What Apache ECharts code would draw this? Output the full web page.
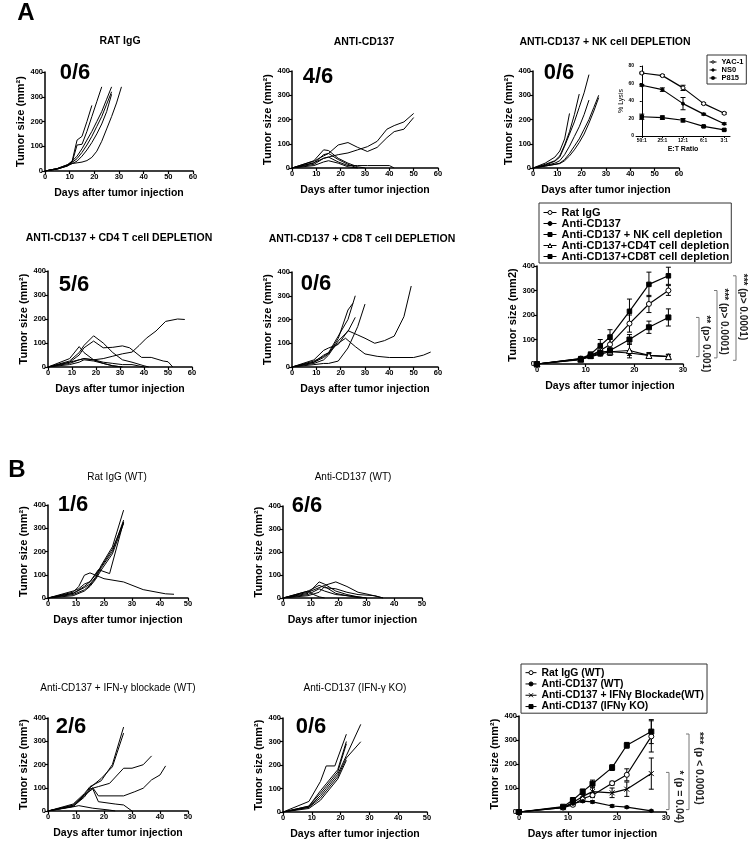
<!DOCTYPE html>
<html><head><meta charset="utf-8">
<script src="https://cdn.jsdelivr.net/npm/echarts@6/dist/echarts.min.js"></script>
<style>html,body{margin:0;padding:0;background:#fff}#c{width:750px;height:843px}</style>
</head><body><div id="c"></div>
<script>
const FONT = '"Liberation Sans", Arial, sans-serif';

// ---------------- DATA ----------------
// individual tumor growth curves: [day, tumor size mm2]
const mice_A_ratIgG = [
  [[0,0],[5,8],[9,22],[11,40],[13,125],[15,140],[17,200],[19,265]],
  [[0,0],[5,8],[9,20],[11,35],[13,105],[15,108],[17,160],[19,220],[21,280],[23,340]],
  [[0,0],[5,10],[9,25],[11,40],[13,60],[15,90],[17,125],[19,160],[21,200],[23,240],[25,290],[27,340]],
  [[0,0],[5,10],[9,22],[11,35],[13,50],[15,75],[17,105],[19,140],[21,180],[23,220],[25,270],[27,320]],
  [[0,0],[5,8],[9,20],[11,30],[13,40],[15,60],[17,85],[19,115],[21,150],[23,190],[25,240],[27,310]],
  [[0,0],[5,10],[9,25],[11,30],[13,33],[15,36],[17,42],[19,55],[21,80],[23,120],[25,170],[27,220],[29,275],[31,340]]
];
const mice_A_antiCD137 = [
  [[0,0],[9,28],[13,50],[15,60],[19,95],[23,105],[27,85],[31,68],[35,85],[39,125],[42,150],[46,160],[50,208]],
  [[0,0],[9,22],[13,40],[15,45],[19,55],[23,62],[27,75],[31,88],[35,110],[39,160],[42,175],[46,190],[50,225]],
  [[0,0],[9,30],[13,75],[15,72],[19,40],[23,20],[27,5],[30,0]],
  [[0,0],[9,20],[13,55],[15,60],[19,35],[23,15],[27,0]],
  [[0,0],[9,15],[13,40],[15,45],[19,25],[23,10],[27,10],[31,10],[40,10],[42,0]],
  [[0,0],[9,10],[13,25],[15,30],[19,20],[23,5],[27,0]]
];
const mice_A_nkDepletion = [
  [[0,0],[5,20],[9,45],[11,70],[13,120],[15,225]],
  [[0,0],[5,15],[9,30],[11,50],[13,95],[15,150],[17,220],[19,305]],
  [[0,0],[5,12],[9,28],[11,45],[13,90],[15,140],[17,190],[19,250],[21,310],[23,385]],
  [[0,0],[5,10],[9,20],[11,30],[13,55],[15,90],[17,130],[19,170],[21,220],[23,280]],
  [[0,0],[5,8],[9,15],[11,20],[13,35],[15,60],[17,90],[19,120],[21,160],[23,200],[25,250],[27,300]],
  [[0,0],[5,8],[9,15],[11,18],[13,30],[15,50],[17,75],[19,105],[21,140],[23,185],[25,235],[27,290]]
];
const mice_A_cd4Depletion = [
  [[0,0],[9,20],[13,30],[15,35],[19,30],[23,35],[27,45],[31,55],[35,62],[38,90],[41,120],[45,150],[49,190],[54,200],[57,198]],
  [[0,0],[9,25],[13,60],[15,90],[19,130],[23,100],[27,60],[31,30],[35,20],[40,5],[42,0]],
  [[0,0],[9,20],[13,50],[15,80],[19,108],[23,80],[27,82],[31,88],[34,80],[39,40],[43,40],[48,25],[50,22],[52,0]],
  [[0,0],[9,35],[13,85],[15,60],[19,30],[23,15],[27,5],[31,0]],
  [[0,0],[9,15],[13,30],[15,35],[19,30],[23,20],[27,15],[31,10],[35,10],[40,0]],
  [[0,0],[9,10],[13,20],[15,30],[19,25],[23,15],[27,5],[31,0]]
];
const mice_A_cd8Depletion = [
  [[0,0],[9,30],[13,70],[15,80],[19,95],[23,153],[27,135],[30,121],[34,100],[38,111],[42,130],[46,212],[49,341]],
  [[0,0],[9,20],[13,50],[15,60],[19,100],[22,121],[26,86],[30,55],[35,45],[40,40],[50,40],[54,50],[57,63]],
  [[0,0],[9,20],[13,40],[15,55],[19,120],[23,240],[25,268]],
  [[0,0],[9,25],[13,45],[15,60],[19,130],[23,200],[26,300]],
  [[0,0],[9,15],[13,30],[15,50],[19,110],[23,150],[26,209]],
  [[0,0],[9,10],[13,15],[15,15],[19,25],[23,80],[27,170],[30,265]]
];
const mice_B_ratIgG = [
  [[0,0],[9,30],[11,40],[13,60],[15,70],[18,122],[22,105],[27,328]],
  [[0,0],[9,25],[11,50],[13,98],[15,108],[20,83],[27,69],[34,36],[42,18],[45,16]],
  [[0,0],[9,20],[13,45],[15,60],[17,90],[19,140],[23,220],[27,378]],
  [[0,0],[9,15],[13,35],[15,55],[17,85],[19,130],[23,200],[27,335]],
  [[0,0],[9,10],[13,30],[15,50],[17,80],[19,120],[23,190],[27,321]],
  [[0,0],[9,20],[13,50],[15,70],[17,100],[19,135],[23,210],[27,325]]
];
const mice_B_antiCD137 = [
  [[0,0],[9,20],[13,70],[15,60],[19,30],[23,15],[27,5],[30,0]],
  [[0,0],[9,25],[13,45],[15,55],[19,70],[23,50],[27,25],[31,15],[36,0]],
  [[0,0],[9,30],[13,55],[15,45],[19,40],[23,25],[27,15],[33,10],[36,0]],
  [[0,0],[9,15],[13,40],[15,30],[19,15],[23,10],[27,5],[30,0]],
  [[0,0],[9,10],[13,25],[15,50],[19,20],[23,10],[28,0]],
  [[0,0],[9,30],[11,15],[13,5],[15,0]]
];
const mice_B_ifnBlockade = [
  [[0,0],[9,30],[13,75],[15,105],[19,130],[23,200],[27,361]],
  [[0,0],[9,25],[13,70],[15,100],[19,140],[23,190],[27,335]],
  [[0,0],[9,20],[13,60],[15,95],[18,105],[22,119],[27,184],[30,184],[34,199],[37,237]],
  [[0,0],[9,20],[13,65],[16,100],[18,65],[27,65],[31,83],[34,98],[37,134],[40,155],[42,194]],
  [[0,0],[9,25],[13,70],[16,95],[18,40],[24,30],[27,26],[30,0]],
  [[0,0],[9,18],[11,23],[16,12],[22,4],[24,0]]
];
const mice_B_ifnKO = [
  [[0,0],[9,45],[13,130],[15,196],[18,196],[22,331]],
  [[0,0],[9,25],[13,90],[15,120],[19,180],[22,300]],
  [[0,0],[9,20],[13,70],[15,100],[19,160],[22,240],[27,373]],
  [[0,0],[9,20],[13,60],[15,90],[19,150],[22,230],[27,299]],
  [[0,0],[9,15],[13,50],[15,80],[19,140],[22,220]],
  [[0,0],[9,25],[13,80],[15,110],[19,170],[22,290]]
];

// group means (± error) for summary panels
const daysA = [0,9,11,13,15,19,23,27];
const meanA_ratIgG = [0,22,35,55,80,165,245,300];
const errA_ratIgG  = [0,3,5,15,20,35,35,20];
const meanA_antiCD137 = [0,20,30,40,50,45,35,30];
const errA_antiCD137  = [0,3,5,8,10,10,8,8];
const meanA_nk = [0,22,40,75,110,215,325,360];
const errA_nk  = [0,4,8,25,30,50,50,35];
const meanA_cd4 = [0,20,35,50,50,55,35,30];
const errA_cd4  = [0,3,5,10,15,30,12,10];
const meanA_cd8 = [0,18,32,45,55,100,150,190];
const errA_cd8  = [0,3,5,8,10,20,25,35];

const daysB = [0,9,11,13,15,19,22,27];
const meanB_ratIgG = [0,18,30,55,70,120,155,315];
const errB_ratIgG  = [0,3,5,8,10,8,25,65];
const meanB_antiCD137 = [0,20,35,45,42,25,20,5];
const errB_antiCD137  = [0,3,4,5,5,5,4,3];
const meanB_block = [0,18,40,65,85,80,95,160];
const errB_block  = [0,3,5,8,15,20,30,65];
const meanB_ko = [0,22,50,85,118,185,278,335];
const errB_ko  = [0,3,5,10,15,12,12,50];

// inset: NK cytotoxicity
const etRatios = ['50:1','25:1','12:1','6:1','3:1'];
const lysis_YAC1 = [72,69,55,37,26];
const lysisErr_YAC1 = [1,1,3,1,1];
const lysis_NS0 = [58,53,37,25,14];
const lysisErr_NS0 = [1,2,7,1,1];
const lysis_P815 = [22,21,18,11,7];
const lysisErr_P815 = [3,2,2,1,1];

// texts
const panelTitles = ['RAT IgG','ANTI-CD137','ANTI-CD137 + NK cell DEPLETION','ANTI-CD137 + CD4 T cell DEPLETION','ANTI-CD137 + CD8 T cell DEPLETION','Rat IgG (WT)','Anti-CD137 (WT)','Anti-CD137 + IFN-\u03b3 blockade (WT)','Anti-CD137 (IFN-\u03b3 KO)'];
const tumorFree = ['0/6','4/6','0/6','5/6','0/6','1/6','6/6','2/6','0/6'];
const sigA = [{lo:30,hi:190,label:'** (p> 0.001)'},{lo:25,hi:300,label:'*** (p> 0.0001)'},{lo:15,hi:360,label:'*** (p> 0.0001)'}];
const sigB = [{lo:10,hi:165,label:'* (p = 0.04)'},{lo:10,hi:325,label:'*** (p < 0.0001)'}];

// ---------------- LAYOUT (style) ----------------
const grids = [
  [45,72,148,99],[292,71,146,97],[533,71,146,97],[48,271,144,96],[292,272,146,95],
  [48,505,140,93],[283,506,139,92],[48,718,140,93],[283,718,144,94],
  [537,266,146,98],[519,716,147,96],[636,66,94,70]
];
const xMaxes = [60,60,60,60,60,50,50,50,50,30,30];
const titlePos = [[120,41],[364,42],[605,42],[119,238],[362,239],[117,477],[353,477],[118,688],[355,688]];
const titleBold = [true,true,true,true,true,false,false,false,false];
const countPos = [[75,73],[318,77],[559,73],[74,285],[316,284],[73,505],[307,506],[71,727],[311,727]];
const sigAOffsets = [16,34,53];
const sigBOffsets = [3,23];

const miceSets = [mice_A_ratIgG,mice_A_antiCD137,mice_A_nkDepletion,mice_A_cd4Depletion,mice_A_cd8Depletion,mice_B_ratIgG,mice_B_antiCD137,mice_B_ifnBlockade,mice_B_ifnKO];

const axisLineStyle = {lineStyle:{color:'#000',width:1.5}};
const tickStyle = {length:3,lineStyle:{color:'#000',width:1.2}};
const lblStyle = {fontFamily:FONT,fontSize:7.5,fontWeight:'bold',color:'#000',margin:2};
const nameStyle = {fontFamily:FONT,fontSize:10.5,fontWeight:'bold',color:'#000'};

const xAxis = [], yAxis = [], gridOpt = [], series = [];
grids.forEach((g,i)=>gridOpt.push({left:g[0],top:g[1],width:g[2],height:g[3],containLabel:false}));

for (let i=0;i<11;i++){
  xAxis.push({type:'value',gridIndex:i,min:0,max:xMaxes[i],interval:10,
    name:'Days after tumor injection',nameLocation:'middle',nameGap:17,nameTextStyle:nameStyle,
    axisLine:axisLineStyle,axisTick:tickStyle,axisLabel:lblStyle,splitLine:{show:false}});
  let yname = 'Tumor size (mm\u00b2)';
  if (i===9) yname = 'Tumor size (mm2)';
  yAxis.push({type:'value',gridIndex:i,min:0,max:400,interval:100,
    name:yname,nameLocation:'middle',nameGap:19,nameRotate:90,
    nameTextStyle:Object.assign({},nameStyle,{fontSize:11}),
    axisLine:axisLineStyle,axisTick:tickStyle,axisLabel:lblStyle,splitLine:{show:false}});
}
// inset axes
xAxis.push({type:'value',gridIndex:11,min:-0.28,max:4.28,
  name:'E:T Ratio',nameLocation:'middle',nameGap:10,nameTextStyle:Object.assign({},nameStyle,{fontSize:7}),
  axisLine:{lineStyle:{color:'#000',width:1}},
  axisTick:{length:2,lineStyle:{color:'#000',width:1},customValues:[0,1,2,3,4]},
  axisLabel:{fontFamily:FONT,fontSize:5,fontWeight:'bold',color:'#000',margin:2,customValues:[0,1,2,3,4],formatter:v=>etRatios[Math.round(v)]},
  splitLine:{show:false}});
yAxis.push({type:'value',gridIndex:11,min:0,max:80,interval:20,
  name:'% Lysis',nameLocation:'middle',nameGap:11,nameRotate:90,nameTextStyle:Object.assign({},nameStyle,{fontSize:7,fontWeight:'normal'}),
  axisLine:{lineStyle:{color:'#000',width:1}},axisTick:{length:2,lineStyle:{color:'#000',width:1}},
  axisLabel:{fontFamily:FONT,fontSize:5,fontWeight:'bold',color:'#000',margin:2},splitLine:{show:false}});

miceSets.forEach((set,i)=>set.forEach(m=>series.push({type:'line',xAxisIndex:i,yAxisIndex:i,data:m,symbol:'none',
  lineStyle:{color:'#000',width:1},silent:true,animation:false})));

function errRender(params, api){
  const x=api.value(0), y=api.value(1), e=api.value(2);
  if(!e) return null;
  const hi=api.coord([x,y+e]), lo=api.coord([x,y-e]);
  const w=2.5, st={stroke:'#000',lineWidth:1};
  return {type:'group',children:[
    {type:'line',shape:{x1:hi[0],y1:hi[1],x2:lo[0],y2:lo[1]},style:st},
    {type:'line',shape:{x1:hi[0]-w,y1:hi[1],x2:hi[0]+w,y2:hi[1]},style:st},
    {type:'line',shape:{x1:lo[0]-w,y1:lo[1],x2:lo[0]+w,y2:lo[1]},style:st}
  ]};
}
function addGroup(name, gi, xs, means, errs, symbol, size, fill){
  series.push({type:'line',name,xAxisIndex:gi,yAxisIndex:gi,data:xs.map((d,k)=>[d,means[k]]),
    symbol,symbolSize:size,lineStyle:{color:'#000',width:1.2},
    itemStyle:{color:fill||'#000',borderColor:'#000',borderWidth:1},z:3,animation:false});
  series.push({type:'custom',xAxisIndex:gi,yAxisIndex:gi,data:xs.map((d,k)=>[d,means[k],errs[k]]),
    encode:{x:0,y:1},renderItem:errRender,silent:true,z:2,animation:false});
}
const XSYM = 'path://M0,0L10,10M10,0L0,10';
addGroup('Rat IgG',9,daysA,meanA_ratIgG,errA_ratIgG,'circle',5,'#fff');
addGroup('Anti-CD137',9,daysA,meanA_antiCD137,errA_antiCD137,'circle',3.5);
addGroup('Anti-CD137 + NK cell depletion',9,daysA,meanA_nk,errA_nk,'rect',4.5);
addGroup('Anti-CD137+CD4T cell depletion',9,daysA,meanA_cd4,errA_cd4,'triangle',6,'#fff');
addGroup('Anti-CD137+CD8T cell depletion',9,daysA,meanA_cd8,errA_cd8,'rect',5);

addGroup('Rat IgG (WT)',10,daysB,meanB_ratIgG,errB_ratIgG,'circle',5,'#fff');
addGroup('Anti-CD137 (WT)',10,daysB,meanB_antiCD137,errB_antiCD137,'circle',3.5);
addGroup('Anti-CD137 + IFN\u03b3 Blockade(WT)',10,daysB,meanB_block,errB_block,XSYM,5);
addGroup('Anti-CD137 (IFN\u03b3 KO)',10,daysB,meanB_ko,errB_ko,'rect',5);

const idx=[0,1,2,3,4];
addGroup('YAC-1',11,idx,lysis_YAC1,lysisErr_YAC1,'circle',4,'#fff');
addGroup('NS0',11,idx,lysis_NS0,lysisErr_NS0,'circle',3);
addGroup('P815',11,idx,lysis_P815,lysisErr_P815,'rect',3.5);

const legendText = {fontFamily:FONT,fontSize:11,fontWeight:'bold',color:'#000',lineHeight:11};
const legItem = {borderWidth:1};
const legLine = {width:1};
const legend = [
  {orient:'vertical',left:539,top:203,padding:[4,2,1,4],itemGap:0,itemWidth:13,itemHeight:5,
   itemStyle:legItem,lineStyle:legLine,
   borderColor:'#333',borderWidth:1,textStyle:legendText,selectedMode:false,
   data:['Rat IgG','Anti-CD137','Anti-CD137 + NK cell depletion','Anti-CD137+CD4T cell depletion','Anti-CD137+CD8T cell depletion']},
  {orient:'vertical',left:521,top:664,padding:[3,3,1,4],itemGap:0,itemWidth:11,itemHeight:5,
   itemStyle:legItem,lineStyle:legLine,
   borderColor:'#333',borderWidth:1,textStyle:Object.assign({},legendText,{fontSize:10.4,lineHeight:11.3}),selectedMode:false,
   data:['Rat IgG (WT)','Anti-CD137 (WT)','Anti-CD137 + IFN\u03b3 Blockade(WT)','Anti-CD137 (IFN\u03b3 KO)']},
  {orient:'vertical',left:707,top:55,padding:[3,3,2,2],itemGap:0,itemWidth:7,itemHeight:3,
   itemStyle:legItem,lineStyle:legLine,
   borderColor:'#333',borderWidth:1,textStyle:{fontFamily:FONT,fontSize:7.5,fontWeight:'bold',color:'#000',lineHeight:8},selectedMode:false,
   data:['YAC-1','NS0','P815']}
];

const chart = echarts.init(document.getElementById('c'),null,{renderer:'canvas'});
chart.setOption({backgroundColor:'#fff',animation:false,grid:gridOpt,xAxis,yAxis,series,legend});

// ---------------- graphics: titles, labels, significance brackets ----------------
const graphic = [];
graphic.push({type:'text',x:26,y:13,style:{text:'A',font:'bold 24px '+FONT,fill:'#000',align:'center',verticalAlign:'middle'}});
graphic.push({type:'text',x:17,y:470,style:{text:'B',font:'bold 24px '+FONT,fill:'#000',align:'center',verticalAlign:'middle'}});
panelTitles.forEach((t,i)=>graphic.push({type:'text',x:titlePos[i][0],y:titlePos[i][1],
  style:{text:t,font:(titleBold[i]?'bold 10.5px ':'10px ')+FONT,fill:'#000',align:'center',verticalAlign:'middle'}}));
tumorFree.forEach((t,i)=>graphic.push({type:'text',x:countPos[i][0],y:countPos[i][1],
  style:{text:t,font:'bold 22px '+FONT,fill:'#000',align:'center',verticalAlign:'middle'}}));

function addBrackets(gi, xMax, sigs, offs, txtOff, fs){
  const right = chart.convertToPixel({xAxisIndex:gi}, xMax);
  sigs.forEach((s,k)=>{
    const yTop = chart.convertToPixel({yAxisIndex:gi}, s.hi);
    const yBot = chart.convertToPixel({yAxisIndex:gi}, s.lo);
    const x = right + offs[k];
    const st = {stroke:'#777',lineWidth:1};
    graphic.push({type:'polyline',shape:{points:[[x-3,yTop],[x,yTop],[x,yBot],[x-3,yBot]]},style:Object.assign({fill:null},st)});
    graphic.push({type:'text',x:x+txtOff,y:yTop-2,rotation:-Math.PI/2,
      style:{text:s.label,font:'bold '+fs+'px '+FONT,fill:'#222',align:'left',verticalAlign:'middle'}});
  });
}
addBrackets(9,30,sigA,sigAOffsets,7,10);
addBrackets(10,30,sigB,sigBOffsets,10,10.5);

chart.setOption({graphic});
</script></body></html>
